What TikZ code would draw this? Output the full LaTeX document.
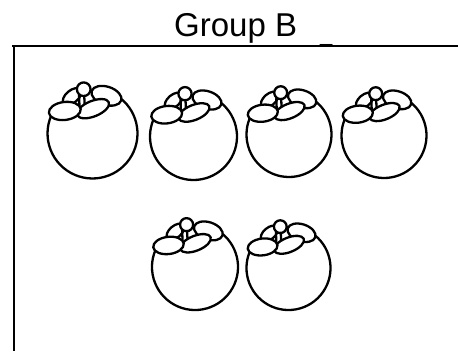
\documentclass[tikz,border=0pt]{standalone}
\usepackage{fontspec}
\setmainfont{Liberation Sans}
\begin{document}
\begin{tikzpicture}[x=1pt,y=-1pt,
  fruitline/.style={line width=2.3pt, line join=round, line cap=round},
  leaf/.style={fruitline, fill=white},
  frameline/.style={line width=2.2pt},
  pics/fruit/.style={code={
    % body outline (hidden part under the crown left out)
    \draw[fruitline] (209:43.5) arc[start angle=209, end angle=-56.5, radius=43.5];
    % back leaf, upper left
    \draw[leaf, rotate around={40:(-19.8,-35.7)}] (-19.8,-35.7) ellipse [x radius=10.5, y radius=6];
    % knob
    \draw[leaf] (-8.5,-42.8) circle [radius=6.6];
    % right leaf
    \draw[leaf, rotate around={-18:(13.5,-36.5)}] (13.5,-36.5) ellipse [x radius=15, y radius=8.8];
    % stem
    \draw[fruitline] (-13,-37) -- (-12.5,-24);
    \draw[fruitline] (-8,-36.5) -- (-7.5,-26);
    % middle leaf
    \draw[leaf, rotate around={22:(0.5,-24)}] (0.5,-24) ellipse [x radius=16.5, y radius=7.5];
    % left front leaf
    \draw[leaf, rotate around={7:(-26.8,-21.8)}] (-26.8,-21.8) ellipse [x radius=15.5, y radius=8.7];
  }}]
\useasboundingbox (0,0) rectangle (458,351);
\fill[white] (0,0) rectangle (458,351);

% title
\node[anchor=base west, inner sep=0pt, font=\fontsize{33}{38}\selectfont] (title) at (174,36) {Group B};
\node[anchor=base west, inner sep=0pt, font=\fontsize{22}{26}\selectfont] (mark) at (320,41.5) {\_};

% frame
\coordinate (ftl) at (12,46);
\coordinate (ftr) at (458,46);
\coordinate (fbl) at (14,351);
\draw[frameline] (ftr) -- (ftl);
\draw[frameline] (14,45) -- (fbl);

% fruits
\pic (f1) [scale=1.034] at (92.5,133.5) {fruit};
\pic (f2) [scale=1.0]   at (193.5,136.5) {fruit};
\pic (f3) [scale=0.977] at (289,134.5) {fruit};
\pic (f4) [scale=0.977] at (384,135.5) {fruit};
\pic (f5) [scale=0.989] at (195,267) {fruit};
\pic (f6) [scale=0.966] at (288.5,268) {fruit};
\end{tikzpicture}
\end{document}
